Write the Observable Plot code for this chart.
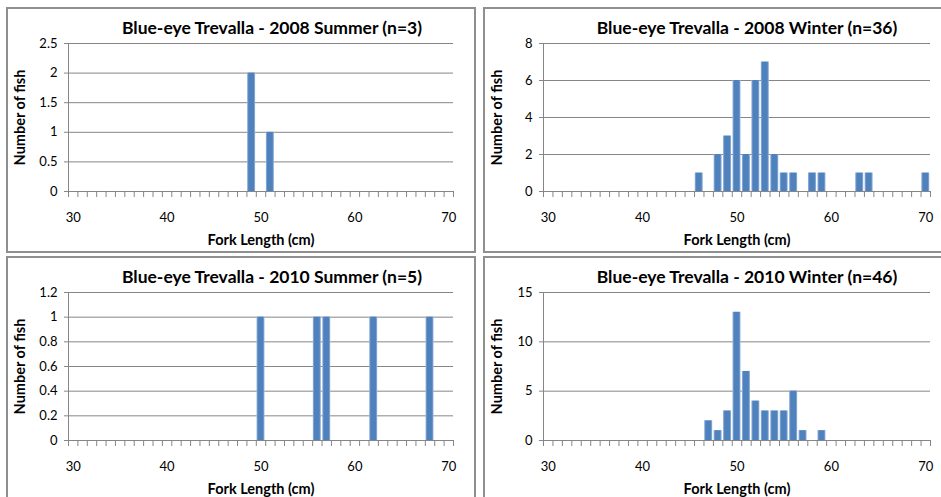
<!DOCTYPE html>
<html>
<head>
<meta charset="utf-8">
<script src="https://cdn.jsdelivr.net/npm/d3@7"></script>
<script src="https://cdn.jsdelivr.net/npm/@observablehq/plot@0.6"></script>
<style>
  body { margin: 0; background: #fff; font-family: Lato, "Open Sans", sans-serif; }
  .panel { position: absolute; width: 466px; height: 242px; border: 2px solid #8f8f8f; background: #fff; }
  .panel svg { position: absolute; left: 0; top: 0; }
  .title { position: absolute; top: 9px; transform: translateX(-50%); white-space: nowrap;
           font-weight: bold; font-size: 17.5px; line-height: 20px; color: #000; }
  g[aria-label="x-axis label"] text, g[aria-label="y-axis label"] text { font-weight: bold; font-size: 14.5px; }
</style>
</head>
<body>
<script>
// Fork-length classes (cm) shown on every panel, and the labelled ones
const lengthClasses = d3.range(30, 71);
const xTickLabels = [30, 40, 50, 60, 70];

// 2008 Summer (n=3)
const summer2008Lengths = [49, 51];
const summer2008Counts = [2, 1];
const summer2008YTicks = [0, 0.5, 1, 1.5, 2, 2.5];

// 2008 Winter (n=36)
const winter2008Lengths = [46, 48, 49, 50, 51, 52, 53, 54, 55, 56, 58, 59, 63, 64, 70];
const winter2008Counts = [1, 2, 3, 6, 2, 6, 7, 2, 1, 1, 1, 1, 1, 1, 1];
const winter2008YTicks = [0, 2, 4, 6, 8];

// 2010 Summer (n=5)
const summer2010Lengths = [50, 56, 57, 62, 68];
const summer2010Counts = [1, 1, 1, 1, 1];
const summer2010YTicks = [0, 0.2, 0.4, 0.6, 0.8, 1, 1.2];

// 2010 Winter (n=46)
const winter2010Lengths = [47, 48, 49, 50, 51, 52, 53, 54, 55, 56, 57, 59];
const winter2010Counts = [2, 1, 3, 13, 7, 4, 3, 3, 3, 5, 1, 1];
const winter2010YTicks = [0, 5, 10, 15];

const panels = [
  {title: "Blue-eye Trevalla - 2008 Summer (n=3)", lengths: summer2008Lengths, counts: summer2008Counts, yTicks: summer2008YTicks, left: 6, top: 7, marginLeft: 60, titleX: 264},
  {title: "Blue-eye Trevalla - 2008 Winter (n=36)", lengths: winter2008Lengths, counts: winter2008Counts, yTicks: winter2008YTicks, left: 483, top: 7, marginLeft: 58, titleX: 262},
  {title: "Blue-eye Trevalla - 2010 Summer (n=5)", lengths: summer2010Lengths, counts: summer2010Counts, yTicks: summer2010YTicks, left: 6, top: 256, marginLeft: 60, titleX: 264},
  {title: "Blue-eye Trevalla - 2010 Winter (n=46)", lengths: winter2010Lengths, counts: winter2010Counts, yTicks: winter2010YTicks, left: 483, top: 256, marginLeft: 58, titleX: 262}
];

const axisGrey = "#868686";
// class boundaries carry the small tick marks along the x axis
const classEdges = [...lengthClasses.map(v => v - 0.5), lengthClasses[lengthClasses.length - 1] + 0.5];
const xDomain = [classEdges[0], classEdges[classEdges.length - 1]];

panels.forEach((p, i) => {
  const data = p.lengths.map((len, j) => ({len, count: p.counts[j]}));
  const box = document.createElement("div");
  box.className = "panel";
  box.style.left = p.left + "px";
  box.style.top = p.top + "px";

  const chart = Plot.plot({
    width: 466,
    height: 242,
    marginLeft: p.marginLeft,
    marginRight: 21,
    marginTop: 34,
    marginBottom: 60,
    style: {fontFamily: "Lato, 'Open Sans', sans-serif", fontSize: "13px", color: "#000", background: "transparent", overflow: "visible"},
    x: {type: "linear", domain: xDomain},
    y: {domain: [0, p.yTicks[p.yTicks.length - 1]]},
    marks: [
      Plot.gridY(p.yTicks, {stroke: axisGrey, strokeOpacity: 1}),
      Plot.rectY(data, {
        x1: d => d.len - 0.5,
        x2: d => d.len + 0.5,
        y: "count",
        insetLeft: 0.7,
        insetRight: 0.7,
        fill: `url(#barShade${i})`
      }),
      Plot.ruleX([xDomain[0]], {stroke: axisGrey}),
      Plot.ruleY([0], {stroke: axisGrey}),
      Plot.axisX(classEdges, {tickSize: 6, tickFormat: () => "", stroke: axisGrey, label: null}),
      Plot.axisX(xTickLabels, {
        tickSize: 0, tickPadding: 21.5, tickFormat: d => String(d),
        label: "Fork Length (cm)", labelAnchor: "center", labelArrow: "none", labelOffset: 53
      }),
      Plot.axisY(p.yTicks, {
        tickSize: 4, tickPadding: 7, stroke: axisGrey, tickFormat: d => String(d),
        label: "Number of fish", labelAnchor: "center", labelArrow: "none", labelOffset: p.marginLeft - 6
      })
    ]
  });

  // soft-edged bar shading
  const ns = "http://www.w3.org/2000/svg";
  const defs = document.createElementNS(ns, "defs");
  const grad = document.createElementNS(ns, "linearGradient");
  grad.setAttribute("id", `barShade${i}`);
  grad.setAttribute("x1", "0"); grad.setAttribute("x2", "1");
  grad.setAttribute("y1", "0"); grad.setAttribute("y2", "0");
  [["0%", "#9fbade"], ["20%", "#4f81bd"], ["80%", "#4f81bd"], ["100%", "#9fbade"]].forEach(([o, c]) => {
    const s = document.createElementNS(ns, "stop");
    s.setAttribute("offset", o);
    s.setAttribute("stop-color", c);
    grad.appendChild(s);
  });
  defs.appendChild(grad);
  chart.insertBefore(defs, chart.firstChild);

  box.appendChild(chart);
  const t = document.createElement("div");
  t.className = "title";
  t.style.left = p.titleX + "px";
  t.textContent = p.title;
  box.appendChild(t);
  document.body.appendChild(box);
});
</script>
</body>
</html>
